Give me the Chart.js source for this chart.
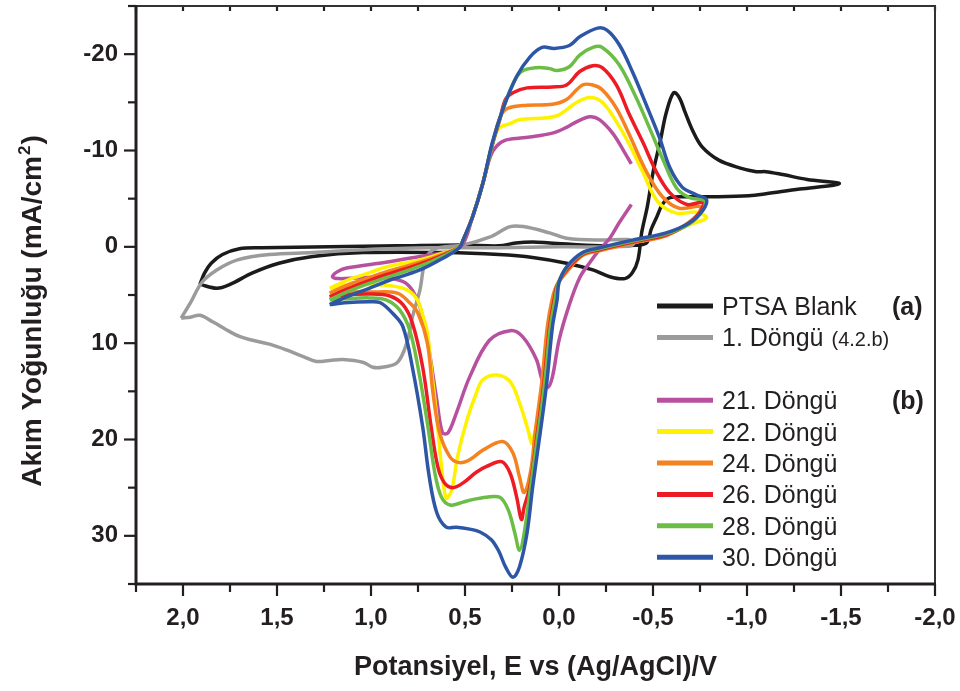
<!DOCTYPE html>
<html>
<head>
<meta charset="utf-8">
<title>Döngüsel voltametri</title>
<script src="https://cdn.jsdelivr.net/npm/chart.js@4.4.0/dist/chart.umd.min.js"></script>
<style>
  html, body { margin: 0; padding: 0; background: #fff; }
  #wrap { width: 960px; height: 691px; }
</style>
</head>
<body>
<div id="wrap"><canvas id="cvChart"></canvas></div>
<script>
// [potential (V), current density (mA/cm2)] along each sweep
var ptsaBlank = [
  [1.91, 3.9], [1.82, 4.3], [1.75, 3.9], [1.63, 2.7], [1.49, 1.7], [1.31, 1.0], [1.04, 0.6],
  [0.60, 0.6], [0.32, 0.8], [0.14, 1.1], [-0.04, 1.7], [-0.18, 2.4], [-0.27, 3.1], [-0.35, 3.3],
  [-0.39, 2.7], [-0.42, 1.35], [-0.44, -1.5], [-0.47, -4.2], [-0.50, -7.7], [-0.54, -11.1],
  [-0.57, -13.9], [-0.61, -16.0], [-0.64, -15.5], [-0.67, -14.0], [-0.71, -12.1], [-0.76, -10.4],
  [-0.85, -9.0], [-0.96, -8.2], [-1.05, -7.8], [-1.10, -7.8], [-1.19, -7.5], [-1.32, -7.0],
  [-1.49, -6.6], [-1.46, -6.4], [-1.28, -6.0], [-1.10, -5.5], [-1.01, -5.3], [-0.84, -5.2],
  [-0.68, -5.2], [-0.59, -5.1], [-0.55, -4.4], [-0.52, -3.1], [-0.49, -1.8], [-0.47, -0.5],
  [-0.43, -0.2], [-0.22, -0.1], [0.05, -0.4], [0.14, -0.5], [0.23, -0.4], [0.32, -0.1],
  [0.51, -0.2], [0.86, -0.1], [1.22, 0.0], [1.58, 0.1], [1.70, 0.2], [1.79, 0.8], [1.85, 1.7],
  [1.885, 2.7], [1.91, 3.9]
];
var cycle1 = [
  [2.01, 7.4], [1.96, 5.8], [1.90, 3.7], [1.82, 2.4], [1.71, 1.35], [1.54, 0.8], [1.31, 0.6],
  [1.04, 0.3], [0.69, 0.1], [0.32, 0.1], [0.0, 0.0], [-0.37, -0.05], [-0.40, -0.4], [-0.37, -0.75],
  [-0.22, -0.7], [-0.04, -0.9], [0.05, -1.45], [0.19, -2.1], [0.26, -2.1], [0.37, -1.0],
  [0.51, -0.2], [0.66, 0.2], [0.71, 1.35], [0.74, 4.5], [0.78, 7.3], [0.81, 10.0], [0.86, 12.0],
  [0.94, 12.5], [0.99, 12.5], [1.04, 12.0], [1.15, 11.7], [1.22, 11.8], [1.29, 11.9], [1.36, 11.4],
  [1.45, 10.7], [1.54, 10.1], [1.63, 9.7], [1.70, 9.3], [1.77, 8.6], [1.84, 7.8], [1.91, 7.1],
  [1.96, 7.3], [2.01, 7.4]
];
var cycle21 = [
  [-0.385, -4.4], [-0.32, -2.5], [-0.27, -0.9], [-0.215, 0.3], [-0.165, 1.6], [-0.11, 3.2],
  [-0.055, 6.0], [0.0, 9.7], [0.035, 13.5], [0.06, 14.6], [0.09, 13.8], [0.12, 11.7],
  [0.195, 9.3], [0.26, 8.7], [0.37, 9.7], [0.475, 13.5], [0.545, 17.2], [0.59, 19.3],
  [0.62, 19.3], [0.65, 15.9], [0.70, 9.7], [0.74, 6.2], [0.78, 4.5], [0.83, 3.6], [0.92, 3.2],
  [1.06, 3.2], [1.17, 3.3], [1.205, 3.1], [1.18, 2.6], [1.13, 2.2], [0.92, 1.6], [0.74, 1.0],
  [0.565, 0.4], [0.51, -0.3], [0.46, -3.1], [0.405, -6.6], [0.365, -9.4], [0.33, -10.5],
  [0.28, -11.1], [0.155, -11.4], [0.035, -11.8], [-0.04, -12.4], [-0.095, -13.0], [-0.165, -13.5],
  [-0.215, -13.2], [-0.285, -11.8], [-0.34, -10.1], [-0.385, -8.6]
];
var cycle22 = [
  [1.22, 4.3], [1.13, 3.5], [1.01, 2.7], [0.92, 2.1], [0.74, 1.35], [0.61, 0.6], [0.53, 0.0],
  [0.51, -0.7], [0.46, -3.1], [0.405, -6.6], [0.355, -10.6], [0.32, -12.3], [0.26, -12.8],
  [0.21, -13.2], [0.065, -13.4], [0.0, -13.7], [-0.095, -15.0], [-0.165, -15.5], [-0.23, -15.0],
  [-0.305, -13.0], [-0.375, -10.6], [-0.445, -7.8], [-0.525, -4.7], [-0.625, -3.5], [-0.73, -3.6],
  [-0.785, -3.0], [-0.695, -2.3], [-0.57, -1.25], [-0.39, -0.6], [-0.215, 0.3], [-0.125, 0.8],
  [-0.045, 2.4], [0.01, 4.0], [0.031, 5.5], [0.056, 8.3], [0.086, 14.1], [0.115, 18.0],
  [0.135, 19.8], [0.145, 20.4], [0.165, 19.0], [0.21, 16.2], [0.26, 14.0], [0.33, 13.3],
  [0.405, 13.8], [0.44, 15.2], [0.49, 18.0], [0.54, 21.8], [0.57, 25.2], [0.60, 26.1],
  [0.625, 22.8], [0.65, 17.7], [0.68, 12.5], [0.70, 8.9], [0.725, 7.1], [0.76, 5.3], [0.83, 4.3],
  [1.01, 3.9], [1.14, 4.0], [1.22, 4.3]
];
var cycle24 = [
  [1.22, 4.8], [1.13, 4.0], [1.01, 3.2], [0.92, 2.6], [0.74, 1.6], [0.61, 0.7], [0.53, 0.0],
  [0.51, -0.7], [0.46, -3.1], [0.405, -6.6], [0.355, -10.6], [0.31, -13.6], [0.27, -14.4],
  [0.17, -14.7], [0.035, -14.8], [-0.04, -15.3], [-0.125, -16.8], [-0.18, -16.8], [-0.23, -16.3],
  [-0.305, -14.4], [-0.375, -11.6], [-0.465, -7.8], [-0.55, -5.2], [-0.64, -4.0], [-0.75, -4.2],
  [-0.74, -3.4], [-0.665, -2.2], [-0.57, -1.15], [-0.39, -0.4], [-0.215, 0.4], [-0.125, 0.9],
  [-0.05, 2.4], [0.012, 4.0], [0.037, 5.5], [0.062, 8.3], [0.092, 14.1], [0.127, 19.3],
  [0.15, 23.2], [0.185, 25.5], [0.21, 23.9], [0.245, 21.4], [0.30, 20.2], [0.405, 21.1],
  [0.475, 22.1], [0.53, 22.4], [0.58, 21.8], [0.635, 19.3], [0.67, 15.2], [0.70, 10.0],
  [0.75, 6.9], [0.795, 5.8], [0.86, 4.8], [1.01, 4.7], [1.14, 4.7], [1.22, 4.8]
];
var cycle26 = [
  [1.22, 5.2], [1.13, 4.4], [1.01, 3.5], [0.92, 2.9], [0.74, 1.8], [0.61, 0.8], [0.53, 0.0],
  [0.51, -0.7], [0.46, -3.1], [0.405, -6.6], [0.355, -10.6], [0.315, -13.2], [0.285, -15.3],
  [0.245, -16.0], [0.17, -16.5], [0.035, -16.6], [-0.04, -16.8], [-0.11, -18.2], [-0.18, -18.8],
  [-0.23, -18.6], [-0.305, -16.8], [-0.375, -13.7], [-0.445, -10.9], [-0.52, -7.7], [-0.59, -5.6],
  [-0.68, -4.4], [-0.765, -4.6], [-0.75, -3.6], [-0.68, -2.3], [-0.57, -1.25], [-0.39, -0.5],
  [-0.215, 0.3], [-0.125, 0.8], [-0.045, 2.3], [0.008, 3.9], [0.026, 5.5], [0.05, 8.3],
  [0.08, 14.1], [0.115, 19.3], [0.155, 24.9], [0.185, 27.0], [0.20, 28.3], [0.225, 26.0],
  [0.26, 23.5], [0.305, 22.3], [0.385, 22.8], [0.44, 23.4], [0.51, 24.5], [0.565, 25.0],
  [0.61, 24.5], [0.645, 22.8], [0.68, 18.7], [0.725, 12.5], [0.78, 7.9], [0.83, 6.0],
  [0.90, 5.1], [1.01, 4.9], [1.14, 5.0], [1.22, 5.2]
];
var cycle28 = [
  [1.22, 5.5], [1.13, 4.7], [1.01, 3.8], [0.92, 3.2], [0.74, 2.0], [0.61, 0.9], [0.53, 0.0],
  [0.51, -0.7], [0.46, -3.1], [0.405, -6.6], [0.355, -10.6], [0.30, -14.2], [0.245, -16.9],
  [0.20, -18.2], [0.12, -18.6], [0.05, -18.5], [0.01, -18.3], [-0.055, -18.7], [-0.11, -19.9],
  [-0.18, -20.7], [-0.23, -20.7], [-0.32, -18.9], [-0.41, -15.5], [-0.48, -12.4], [-0.55, -9.2],
  [-0.625, -6.1], [-0.695, -5.1], [-0.775, -4.8], [-0.765, -3.8], [-0.695, -2.4], [-0.57, -1.35],
  [-0.39, -0.6], [-0.215, 0.2], [-0.125, 0.7], [-0.04, 2.2], [0.005, 3.8], [0.021, 5.5],
  [0.046, 8.3], [0.076, 14.1], [0.111, 19.3], [0.151, 24.9], [0.185, 29.7], [0.21, 31.5],
  [0.235, 29.7], [0.27, 27.3], [0.315, 26.0], [0.385, 26.0], [0.475, 26.3], [0.51, 26.5],
  [0.58, 26.8], [0.625, 26.0], [0.66, 23.5], [0.70, 18.3], [0.75, 12.5], [0.795, 8.6],
  [0.85, 6.5], [0.92, 5.5], [1.01, 5.3], [1.14, 5.4], [1.22, 5.5]
];
var cycle30 = [
  [1.22, 6.0], [1.13, 5.2], [1.01, 4.3], [0.92, 3.6], [0.74, 2.4], [0.61, 1.1], [0.53, 0.1],
  [0.51, -0.7], [0.46, -3.1], [0.405, -6.6], [0.355, -10.8], [0.30, -14.2], [0.225, -17.7],
  [0.155, -19.7], [0.09, -20.7], [0.025, -20.6], [-0.055, -20.9], [-0.11, -21.8], [-0.205, -22.7],
  [-0.255, -22.5], [-0.32, -21.0], [-0.39, -18.2], [-0.465, -14.7], [-0.535, -11.3], [-0.59, -8.2],
  [-0.655, -6.2], [-0.73, -5.4], [-0.785, -4.9], [-0.765, -3.8], [-0.695, -2.5], [-0.57, -1.45],
  [-0.39, -0.7], [-0.215, 0.1], [-0.125, 0.6], [-0.04, 2.1], [0.0, 3.7], [0.01, 5.5],
  [0.035, 8.3], [0.065, 14.1], [0.10, 19.3], [0.14, 24.9], [0.17, 29.7], [0.21, 33.2],
  [0.245, 34.3], [0.285, 33.2], [0.32, 31.6], [0.36, 30.4], [0.42, 29.6], [0.475, 29.3],
  [0.545, 29.1], [0.60, 29.1], [0.65, 27.6], [0.69, 23.9], [0.725, 18.7], [0.78, 12.5],
  [0.83, 8.3], [0.885, 6.9], [0.95, 5.8], [1.01, 5.7], [1.14, 5.8], [1.22, 6.0]
];

var seriesData = [ptsaBlank, cycle1, cycle21, cycle22, cycle24, cycle26, cycle28, cycle30];
var seriesNames = ['PTSA Blank', '1. Döngü', '21. Döngü', '22. Döngü', '24. Döngü', '26. Döngü', '28. Döngü', '30. Döngü'];
var seriesNotes = ['(a)', '', '(b)', '', '', '', '', ''];
var seriesColors = ['#1b1b1b', '#9b9b9b', '#b7519f', '#fff200', '#f58220', '#ed1c24', '#6cbd45', '#2e56a6'];

var TEXT = '#231f20';
var FONT = "'Liberation Sans', Arial, Helvetica, sans-serif";

function isMultiple(v, step) {
  var r = v / step;
  return Math.abs(r - Math.round(r)) < 1e-6;
}

// keep the plot box fixed: no extra room for edge labels
function noPadding(s) {
  s.paddingLeft = 0;
  s.paddingRight = 0;
  s.paddingTop = 0;
  s.paddingBottom = 0;
}

// frame with inner ticks on top, outer ticks on left/bottom (long major, short minor)
var axisFrame = {
  id: 'axisFrame',
  afterDatasetsDraw: function (chart) {
    var ctx = chart.ctx, a = chart.chartArea, xs = chart.scales.x, ys = chart.scales.y;
    ctx.save();
    ctx.strokeStyle = TEXT;
    ctx.lineWidth = 2.2;
    xs.ticks.forEach(function (t) {
      var px = xs.getPixelForValue(t.value);
      var len = isMultiple(t.value, 0.5) ? 12 : 8;
      ctx.beginPath();
      ctx.moveTo(px, a.bottom); ctx.lineTo(px, a.bottom + len);
      ctx.moveTo(px, a.top); ctx.lineTo(px, a.top + 5);
      ctx.stroke();
    });
    ys.ticks.forEach(function (t) {
      var py = ys.getPixelForValue(t.value);
      var len = isMultiple(t.value, 10) ? 12 : 8;
      ctx.beginPath();
      ctx.moveTo(a.left, py); ctx.lineTo(a.left - len, py);
      ctx.stroke();
    });
    ctx.lineWidth = 2;
    ctx.strokeStyle = '#333';
    ctx.beginPath();
    ctx.moveTo(a.left, a.top); ctx.lineTo(a.right, a.top); ctx.lineTo(a.right, a.bottom);
    ctx.stroke();
    ctx.lineWidth = 3;
    ctx.strokeStyle = TEXT;
    ctx.beginPath();
    ctx.moveTo(a.left, a.top - 1); ctx.lineTo(a.left, a.bottom); ctx.lineTo(a.right + 1, a.bottom);
    ctx.stroke();

    // axis titles
    ctx.fillStyle = TEXT;
    ctx.font = 'bold 27px ' + FONT;
    ctx.textAlign = 'center';
    ctx.textBaseline = 'alphabetic';
    ctx.fillText('Potansiyel, E vs (Ag/AgCl)/V', (a.left + a.right) / 2, 675);

    // vertical title with a raised small "2"
    var main = 'Akım Yoğunluğu (mA/cm';
    ctx.save();
    ctx.translate(41, 311);
    ctx.rotate(-Math.PI / 2);
    ctx.textAlign = 'left';
    ctx.font = 'bold 28px ' + FONT;
    var wMain = ctx.measureText(main).width;
    var wParen = ctx.measureText(')').width;
    ctx.font = 'bold 17px ' + FONT;
    var wSup = ctx.measureText('2').width;
    var x0 = -(wMain + wSup + 2 + wParen) / 2;
    ctx.font = 'bold 28px ' + FONT;
    ctx.fillText(main, x0, 0);
    ctx.font = 'bold 17px ' + FONT;
    ctx.fillText('2', x0 + wMain + 1, -11);
    ctx.font = 'bold 28px ' + FONT;
    ctx.fillText(')', x0 + wMain + wSup + 2, 0);
    ctx.restore();
    ctx.restore();
  }
};

// legend box inside the plot, second group after an empty row
var cvLegend = {
  id: 'cvLegend',
  afterDraw: function (chart) {
    var ctx = chart.ctx;
    var rows = [0, 1, 3, 4, 5, 6, 7, 8];
    ctx.save();
    chart.data.datasets.forEach(function (ds, i) {
      var y = 306 + rows[i] * 31.4;
      ctx.strokeStyle = ds.borderColor;
      ctx.lineWidth = 5;
      ctx.beginPath();
      ctx.moveTo(657, y); ctx.lineTo(713, y);
      ctx.stroke();
      ctx.fillStyle = TEXT;
      ctx.textAlign = 'left';
      ctx.textBaseline = 'alphabetic';
      ctx.font = '25px ' + FONT;
      ctx.fillText(ds.label, 722, y + 9);
      if (i === 1) {
        var w = ctx.measureText(ds.label).width;
        ctx.font = '20px ' + FONT;
        ctx.fillText('(4.2.b)', 722 + w + 8, y + 9);
      }
      if (seriesNotes[i]) {
        ctx.font = 'bold 25px ' + FONT;
        ctx.fillText(seriesNotes[i], 892, y + 9);
      }
    });
    ctx.restore();
  }
};

var datasets = seriesData.map(function (pts, i) {
  return {
    label: seriesNames[i],
    data: pts.map(function (p) { return { x: p[0], y: p[1] }; }),
    showLine: true,
    fill: false,
    borderColor: seriesColors[i],
    backgroundColor: seriesColors[i],
    borderWidth: 3.5,
    tension: 0.35,
    pointRadius: 0,
    pointHoverRadius: 0,
    order: seriesData.length - 1 - i
  };
});

new Chart(document.getElementById('cvChart'), {
  type: 'scatter',
  data: { datasets: datasets },
  options: {
    responsive: true,
    maintainAspectRatio: false,
    animation: false,
    layout: { padding: { top: 6, right: 25, left: 0, bottom: 0 } },
    plugins: { legend: { display: false }, tooltip: { enabled: false } },
    scales: {
      x: {
        type: 'linear',
        reverse: true,
        min: -2.0,
        max: 2.25,
        afterFit: function (s) { s.height = 107; noPadding(s); },
        grid: { display: false, drawTicks: false },
        border: { display: false },
        ticks: {
          stepSize: 0.25,
          autoSkip: false,
          maxRotation: 0,
          padding: 20,
          color: TEXT,
          font: { family: FONT, size: 24, weight: 'bold' },
          callback: function (v) {
            if (!isMultiple(v, 0.5)) return '';
            if (Math.abs(v) < 1e-9) return '0,0';
            return v.toFixed(1).replace('.', ',');
          }
        }
      },
      y: {
        type: 'linear',
        reverse: true,
        min: -25,
        max: 35,
        afterFit: function (s) { s.width = 136; noPadding(s); },
        grid: { display: false, drawTicks: false },
        border: { display: false },
        ticks: {
          stepSize: 5,
          autoSkip: false,
          padding: 18,
          color: TEXT,
          font: { family: FONT, size: 24, weight: 'bold' },
          callback: function (v) {
            return isMultiple(v, 10) ? String(Math.round(v)) : '';
          }
        }
      }
    }
  },
  plugins: [axisFrame, cvLegend]
});
</script>
</body>
</html>
